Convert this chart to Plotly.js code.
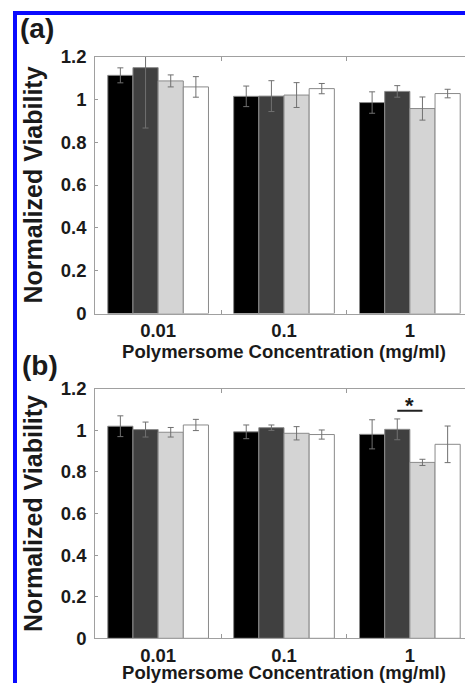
<!DOCTYPE html>
<html>
<head>
<meta charset="utf-8">
<script src="https://cdn.plot.ly/plotly-3.0.1.min.js"></script>
<style>
html,body{margin:0;padding:0;overflow:hidden;background:#fff;width:465px;height:683px;}
#frame{position:absolute;left:13px;top:11px;width:700px;height:900px;border-left:4px solid #0a0aff;border-top:4px solid #0a0aff;pointer-events:none;z-index:5;}
#chart{position:absolute;left:0;top:0;}
</style>
</head>
<body>
<div id="chart"></div>
<div id="frame"></div>
<script>
// Categories
var categories = ['0.01', '0.1', '1'];
var tickLabels = ['0.01', '0.1', '1'];

// Panel (a) values and errors, four series
var a_s1 = [1.112, 1.014, 0.985];
var a_s1_err = [0.035, 0.048, 0.050];
var a_s2 = [1.148, 1.015, 1.037];
var a_s2_err = [0.282, 0.072, 0.027];
var a_s3 = [1.086, 1.020, 0.957];
var a_s3_err = [0.028, 0.058, 0.054];
var a_s4 = [1.058, 1.050, 1.027];
var a_s4_err = [0.048, 0.024, 0.020];

// Panel (b) values and errors, four series
var b_s1 = [1.020, 0.993, 0.981];
var b_s1_err = [0.050, 0.033, 0.070];
var b_s2 = [1.004, 1.013, 1.005];
var b_s2_err = [0.036, 0.013, 0.050];
var b_s3 = [0.991, 0.986, 0.846];
var b_s3_err = [0.023, 0.032, 0.015];
var b_s4 = [1.026, 0.980, 0.933];
var b_s4_err = [0.027, 0.022, 0.088];

var seriesColors = ['#000000', '#404040', '#d4d4d4', '#ffffff'];

var xTitle = 'Polymersome Concentration (mg/ml)';
var yTitle = 'Normalized Viability';

var FONT = '"Liberation Sans", Arial, Helvetica, sans-serif';
var TXT = '#1a1a1a';

function mk(vals, errs, idx, xa, ya) {
  return {
    type: 'bar',
    x: categories,
    y: vals,
    xaxis: xa,
    yaxis: ya,
    marker: {color: seriesColors[idx], line: {color: '#8a8a8a', width: 1}},
    error_y: {type: 'data', array: errs, visible: true, color: '#707070', thickness: 1, width: 3},
    showlegend: false,
    hoverinfo: 'y'
  };
}

var data = [
  mk(a_s1, a_s1_err, 0, 'x', 'y'),
  mk(a_s2, a_s2_err, 1, 'x', 'y'),
  mk(a_s3, a_s3_err, 2, 'x', 'y'),
  mk(a_s4, a_s4_err, 3, 'x', 'y'),
  mk(b_s1, b_s1_err, 0, 'x2', 'y2'),
  mk(b_s2, b_s2_err, 1, 'x2', 'y2'),
  mk(b_s3, b_s3_err, 2, 'x2', 'y2'),
  mk(b_s4, b_s4_err, 3, 'x2', 'y2')
];

var W = 500, H = 683;

function xax(anchor, dom) {
  return {
    type: 'category',
    anchor: anchor,
    domain: dom,
    range: [-0.5, 2.5],
    tickmode: 'array',
    tickvals: categories,
    ticktext: tickLabels,
    tickson: 'boundaries',
    ticks: 'inside',
    ticklen: 4,
    tickcolor: '#999999',
    showline: true,
    linecolor: '#a0a0a0',
    linewidth: 1,
    mirror: 'ticks',
    showgrid: false,
    zeroline: false,
    tickfont: {family: FONT, size: 18.5, color: TXT, weight: 'bold'},
    title: {text: xTitle, font: {family: FONT, size: 18.5, color: TXT, weight: 'bold'}, standoff: 4},
    fixedrange: true
  };
}
function yax(anchor, dom) {
  return {
    anchor: anchor,
    domain: dom,
    range: [0, 1.2],
    tickmode: 'linear',
    tick0: 0,
    dtick: 0.2,
    ticks: 'inside',
    ticklen: 3,
    tickcolor: '#999999',
    showline: true,
    linecolor: '#a0a0a0',
    linewidth: 1,
    mirror: 'ticks',
    showgrid: false,
    zeroline: false,
    ticklabelstandoff: 4,
    tickfont: {family: FONT, size: 18.5, color: TXT, weight: 'bold'},
    title: {text: yTitle, font: {family: FONT, size: 25, color: TXT, weight: 'bold'}, standoff: 11},
    fixedrange: true
  };
}

var layout = {
  width: W,
  height: H,
  margin: {l: 0, r: 0, t: 0, b: 0},
  paper_bgcolor: '#ffffff',
  plot_bgcolor: '#ffffff',
  barmode: 'group',
  bargap: 0.2,
  bargroupgap: 0,
  showlegend: false,
  xaxis: xax('y', [95.2 / W, 472.8 / W]),
  yaxis: yax('x', [(H - 313.5) / H, (H - 56.5) / H]),
  xaxis2: xax('y2', [95.2 / W, 472.8 / W]),
  yaxis2: yax('x2', [(H - 638.3) / H, (H - 388.8) / H]),
  annotations: [
    {text: '(a)', xref: 'paper', yref: 'paper', x: 18 / W, y: (H - 28) / H, xanchor: 'left', yanchor: 'middle', showarrow: false,
     font: {family: FONT, size: 28, color: TXT, weight: 'bold'}},
    {text: '(b)', xref: 'paper', yref: 'paper', x: 20 / W, y: (H - 365) / H, xanchor: 'left', yanchor: 'middle', showarrow: false,
     font: {family: FONT, size: 28, color: TXT, weight: 'bold'}},
    {text: '*', xref: 'x2', yref: 'y2', x: 2, y: 1.12, xanchor: 'center', yanchor: 'middle', showarrow: false,
     font: {family: FONT, size: 22, color: TXT, weight: 'bold'}}
  ],
  shapes: [
    {type: 'line', xref: 'x2', yref: 'y2', x0: 1.9, x1: 2.1, y0: 1.095, y1: 1.095, line: {color: '#222222', width: 2}}
  ]
};

Plotly.newPlot('chart', data, layout, {displayModeBar: false, staticPlot: true});
</script>
</body>
</html>
